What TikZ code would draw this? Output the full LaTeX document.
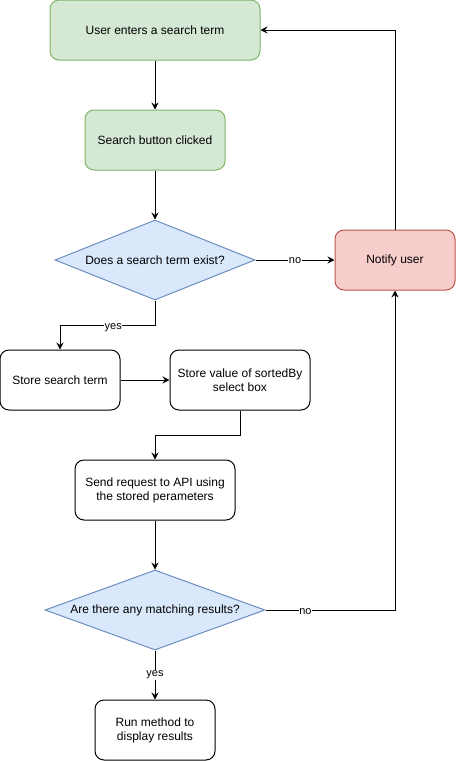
\documentclass[tikz,border=0pt]{standalone}
\usepackage{fontspec}
\setmainfont{Liberation Sans}
\usetikzlibrary{shapes.geometric,arrows.meta}
\definecolor{gfill}{HTML}{D5E8D4}
\definecolor{gdraw}{HTML}{82B366}
\definecolor{bfill}{HTML}{DAE8FC}
\definecolor{bdraw}{HTML}{6C8EBF}
\definecolor{rfill}{HTML}{F8CECC}
\definecolor{rdraw}{HTML}{B85450}
\tikzset{
  box/.style={draw=black, fill=white, line width=1pt, rounded corners=9pt, align=center,
    inner sep=0pt, font=\fontsize{12}{14}\selectfont},
  greenbox/.style={box, draw=gdraw, fill=gfill},
  redbox/.style={box, draw=rdraw, fill=rfill},
  decision/.style={diamond, draw=bdraw, fill=bfill, line width=1pt, inner sep=0pt, aspect=2.5,
    font=\fontsize{12}{14}\selectfont},
  conn/.style={line width=1pt, -{Stealth[length=7pt,width=7pt,inset=2.5pt]}},
  lbl/.style={fill=white, inner sep=0.5pt, font=\fontsize{11}{13}\selectfont}
}
\begin{document}
\begin{tikzpicture}[x=1pt,y=-1pt]
\useasboundingbox (0,0) rectangle (456,761);
\node[greenbox, minimum width=210pt, minimum height=60pt] (b1) at (155,30) {User enters a search term};
\node[greenbox, minimum width=140pt, minimum height=60pt] (b2) at (155,140) {Search button clicked};
\node[decision, minimum width=200pt, minimum height=80pt] (d1) at (155,260) {Does a search term exist?};
\node[redbox, minimum width=120pt, minimum height=60pt] (n) at (395,260) {Notify user};
\node[box, minimum width=120pt, minimum height=60pt] (s1) at (60,380) {Store search term};
\node[box, minimum width=140pt, minimum height=60pt] (s2) at (240,380) {Store value of sortedBy\\select box};
\node[box, minimum width=160pt, minimum height=60pt] (sr) at (155,490) {Send request to API using\\the stored perameters};
\node[decision, minimum width=220pt, minimum height=80pt] (d2) at (155,610) {Are there any matching results?};
\node[box, minimum width=120pt, minimum height=60pt] (r) at (155,730) {Run method to\\display results};
\coordinate (y1) at (155,325);
\coordinate (c2) at (240,435);

\draw[conn] (b1) -- (b2);
\draw[conn] (b2) -- (d1);
\draw[conn] (d1.east) -- node[lbl, pos=0.5, yshift=-1pt] {no} (n.west);
\draw[conn] (n.north) |- (b1.east);
\draw[conn] (d1.south) -- (y1) -| node[lbl, pos=0.22, yshift=-2.5pt] {yes} (s1.north);
\draw[conn] (s1) -- (s2);
\draw[conn] (s2.south) -- (c2) -| (sr.north);
\draw[conn] (sr) -- (d2);
\draw[conn] (d2.east) -| node[lbl, pos=0.154, yshift=-2pt] {no} (n.south);
\draw[conn] (d2) -- node[lbl, pos=0.5] {yes} (r);
\end{tikzpicture}
\end{document}
